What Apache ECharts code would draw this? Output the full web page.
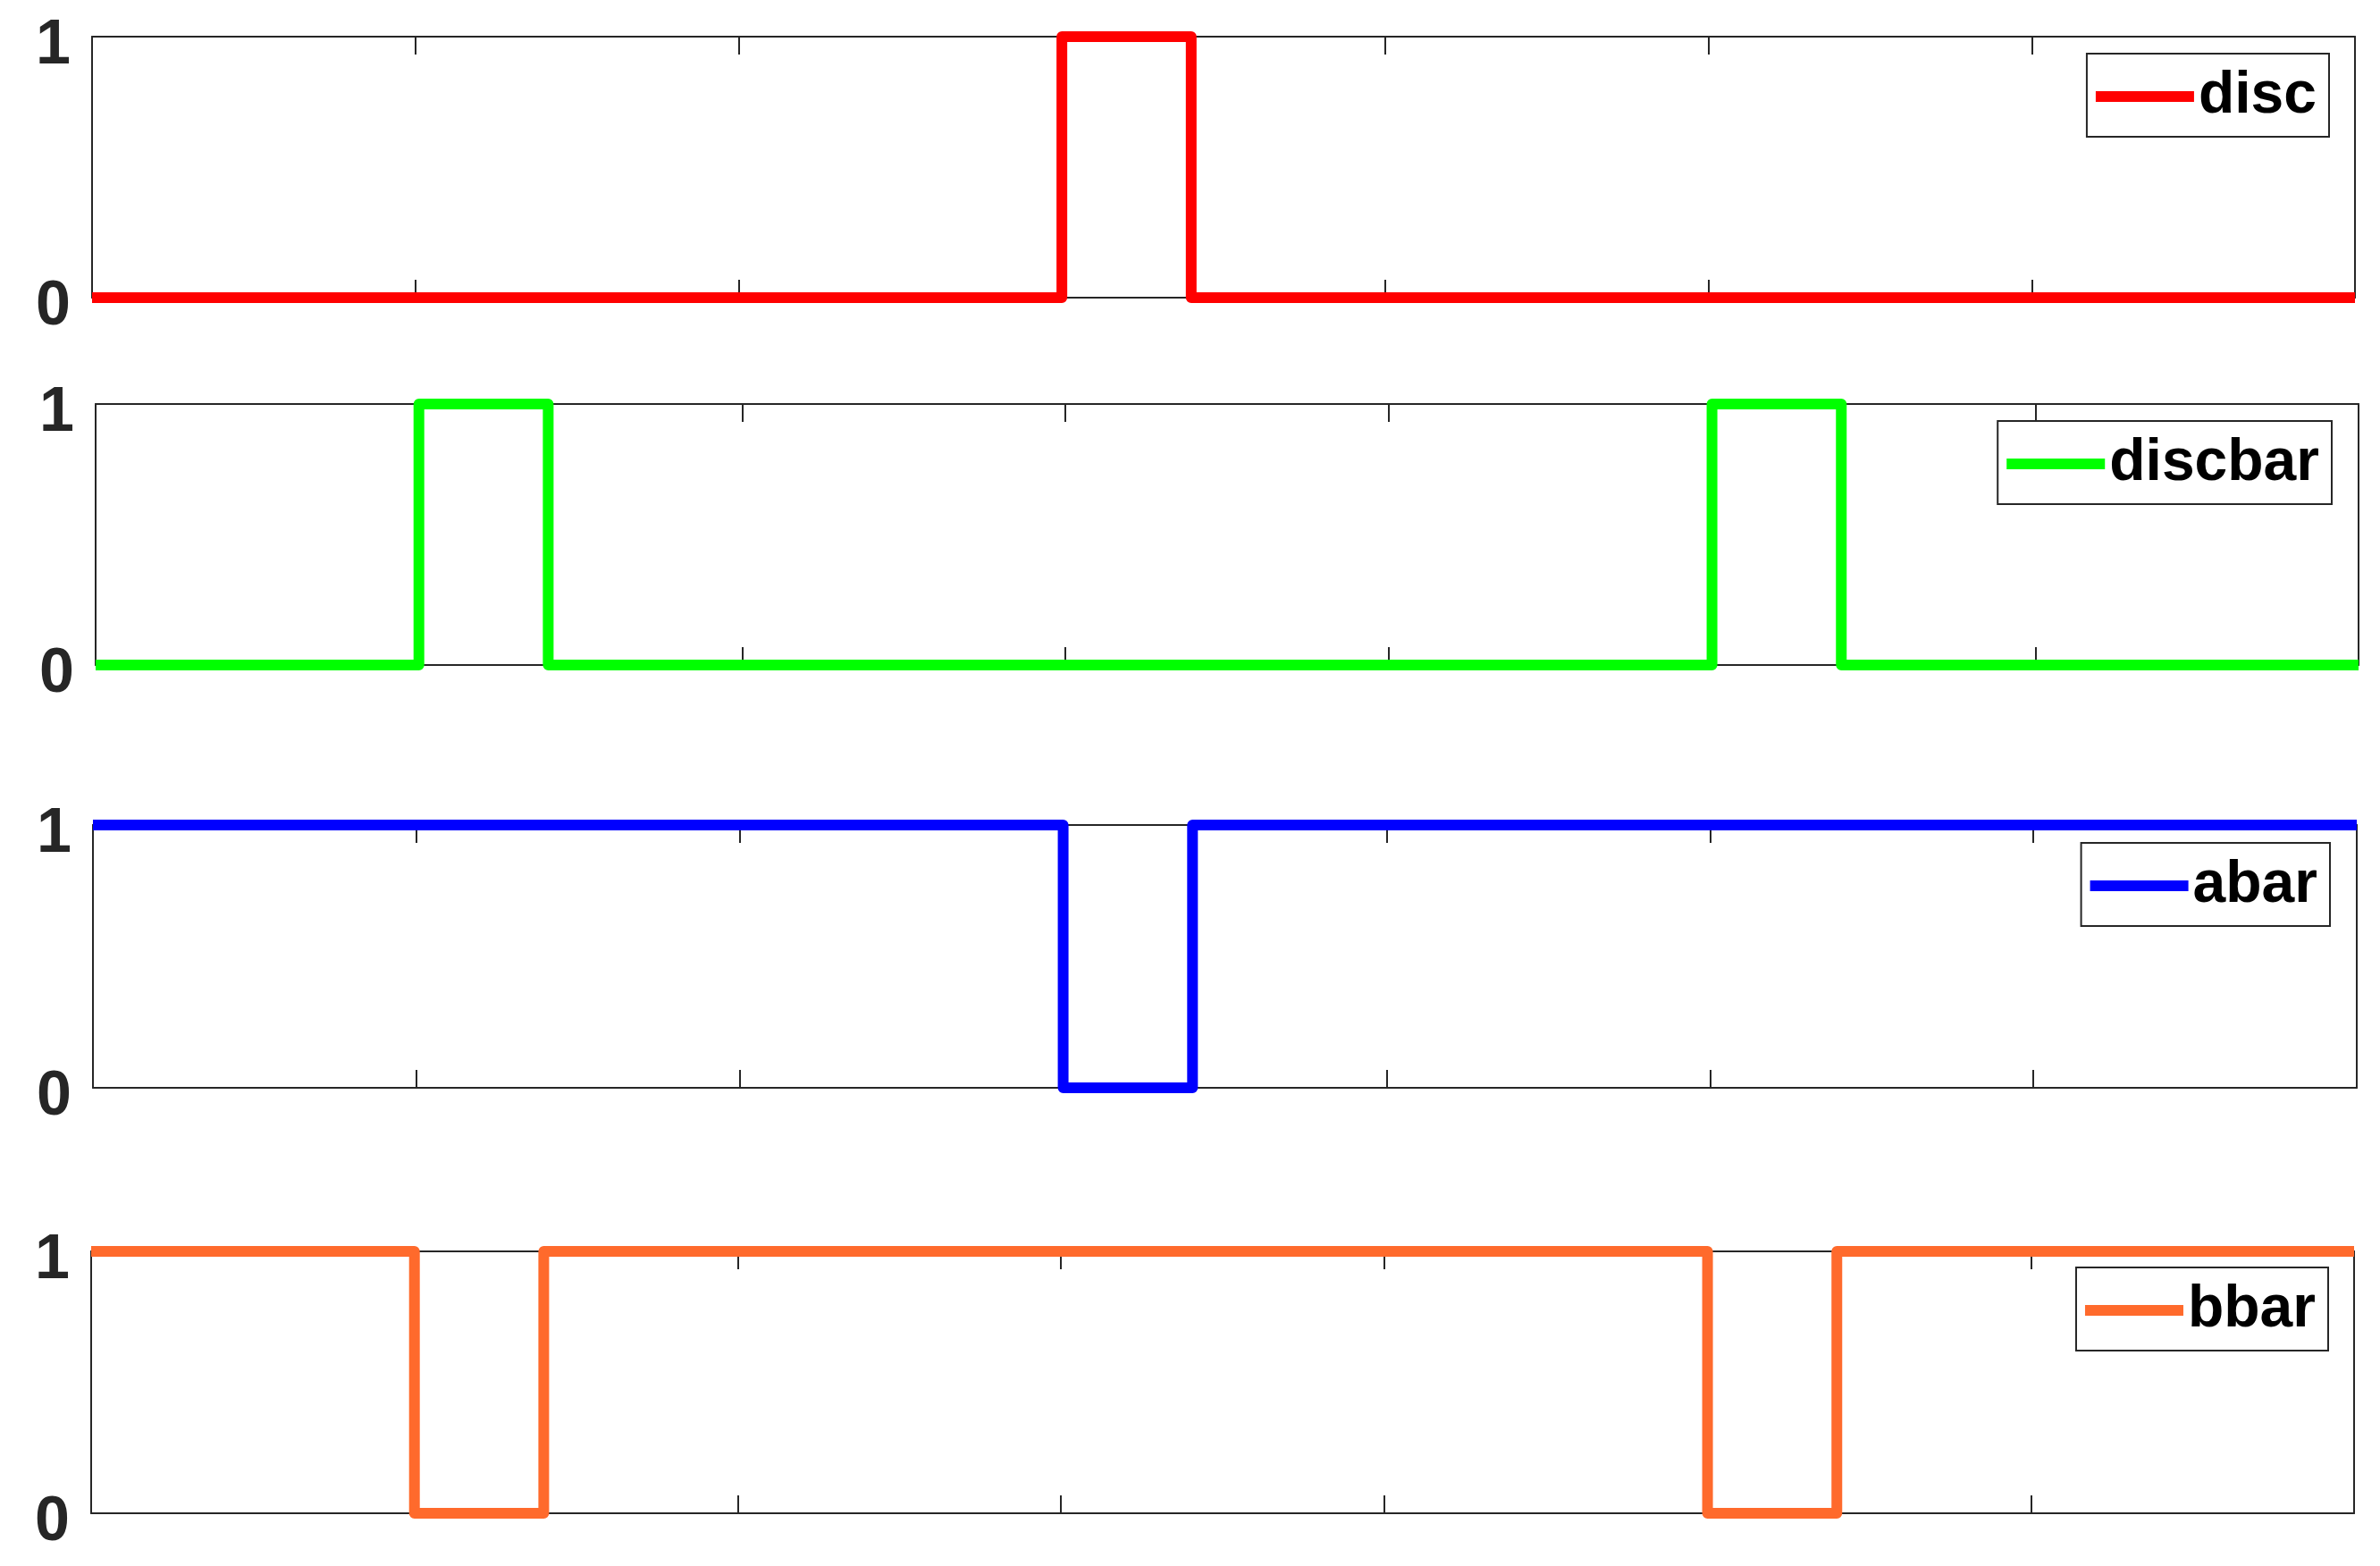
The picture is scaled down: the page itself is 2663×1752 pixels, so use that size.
<!DOCTYPE html>
<html>
<head>
<meta charset="utf-8">
<script src="https://cdn.jsdelivr.net/npm/echarts@6/dist/echarts.min.js"></script>
<style>
html,body{margin:0;padding:0;background:#fff;}
#main{width:2663px;height:1752px;}
</style>
</head>
<body>
<div id="main"></div>
<script>
var mychart=echarts.init(document.getElementById("main"));

// series values: [x, y]
var names=['disc','discbar','abar','bbar'];
var disc=[[0,0],[3,0],[3,1],[3.4,1],[3.4,0],[7,0]];
var discbar=[[0,0],[1,0],[1,1],[1.4,1],[1.4,0],[5,0],[5,1],[5.4,1],[5.4,0],[7,0]];
var abar=[[0,1],[3,1],[3,0],[3.4,0],[3.4,1],[7,1]];
var bbar=[[0,1],[1,1],[1,0],[1.4,0],[1.4,1],[5,1],[5,0],[5.4,0],[5.4,1],[7,1]];
var xRange=[0,7];
var yRange=[0,1];

var seriesData=[disc,discbar,abar,bbar];
var colors=['#ff0000','#00ff00','#0000ff','#ff6a2c'];

// panel boxes (pixels)
var grids=[
    {left:103,right:28,top:41,height:292},
    {left:107,right:24,top:452,height:292},
    {left:104,right:26,top:923,height:294},
    {left:102,right:29,top:1400,height:293}
];
var legendPos=[
    {right:57,top:60},
    {right:54,top:471},
    {right:56,top:943},
    {right:58,top:1418}
];

var axisColor='#262626';
var option={
    animation:false,
    backgroundColor:'#fff',
    grid:[],xAxis:[],yAxis:[],series:[],legend:[]
};

for (var i=0;i<4;i++){
    option.grid.push(grids[i]);
    ['bottom','top'].forEach(function(pos){
        option.xAxis.push({
            type:'value',gridIndex:i,position:pos,
            min:xRange[0],max:xRange[1],interval:1,
            axisLine:{show:true,onZero:false,lineStyle:{color:axisColor,width:2}},
            axisTick:{show:true,inside:true,length:20,lineStyle:{color:axisColor,width:2}},
            axisLabel:{show:false},
            splitLine:{show:false}
        });
    });
    option.yAxis.push({
        type:'value',gridIndex:i,position:'left',
        min:yRange[0],max:yRange[1],interval:1,
        axisLine:{show:true,onZero:false,lineStyle:{color:axisColor,width:2}},
        axisTick:{show:false},
        axisLabel:{show:true,margin:24,verticalAlign:'top',lineHeight:22,color:axisColor,fontSize:70,fontWeight:'bold',fontFamily:'Liberation Sans'},
        splitLine:{show:false}
    });
    option.yAxis.push({
        type:'value',gridIndex:i,position:'right',
        min:yRange[0],max:yRange[1],interval:1,
        axisLine:{show:true,onZero:false,lineStyle:{color:axisColor,width:2}},
        axisTick:{show:false},
        axisLabel:{show:false},
        splitLine:{show:false}
    });
    option.series.push({
        name:names[i],
        type:'line',
        xAxisIndex:i*2,
        yAxisIndex:i*2,
        data:seriesData[i],
        showSymbol:false,
        symbol:'none',
        clip:false,
        color:colors[i],
        lineStyle:{color:colors[i],width:12,join:'round',cap:'butt'}
    });
    option.legend.push({
        data:[names[i]],
        right:legendPos[i].right,
        top:legendPos[i].top,
        orient:'vertical',
        icon:'rect',
        itemWidth:110,
        itemHeight:12,
        padding:[15,14,12,10],
        borderColor:axisColor,
        borderWidth:2,
        backgroundColor:'#fff',
        selectedMode:false,
        textStyle:{color:'#000',fontSize:66,fontWeight:'bold',fontFamily:'Liberation Sans'}
    });
}

mychart.setOption(option);
</script>
</body>
</html>
